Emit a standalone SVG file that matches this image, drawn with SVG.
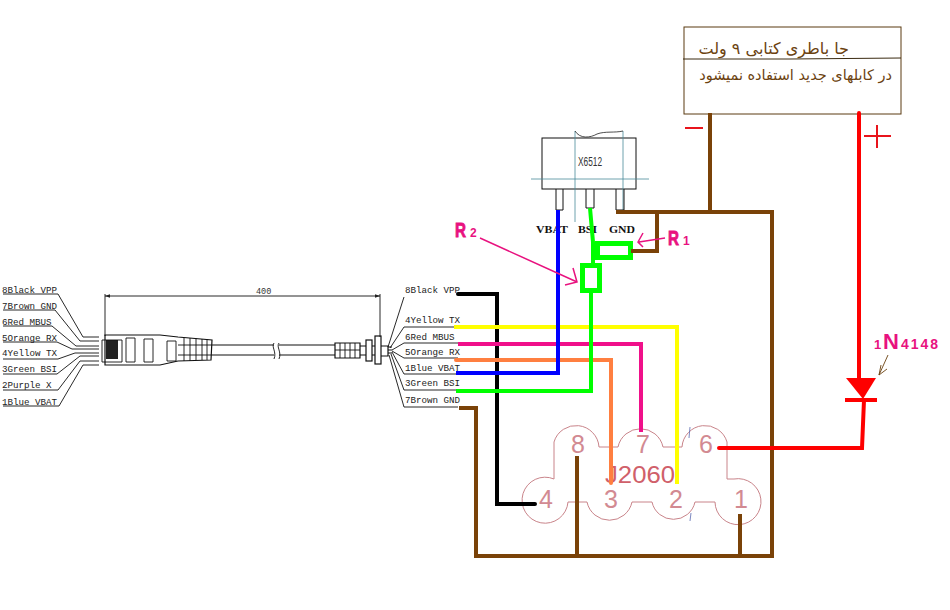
<svg xmlns="http://www.w3.org/2000/svg" width="950" height="610" viewBox="0 0 950 610">
<style>
.lab{font-family:"Liberation Mono",monospace;font-size:9.2px;fill:#222}
.thin{fill:none;stroke:#111;stroke-width:.9}
.thk{fill:none;stroke:#111;stroke-width:1.2}
.w{fill:none;stroke-width:4;stroke-linejoin:miter}
.pin{font-family:"Liberation Sans",sans-serif;font-size:25px;fill:#d28a92;text-anchor:middle}
.ic{font-family:"Liberation Serif",serif;font-weight:bold;font-size:11px;fill:#111}
.pk{font-family:"Liberation Sans",sans-serif;font-weight:bold;fill:#e8127f}
.rr{stroke:#e8127f;stroke-width:.9}
.pl{fill:none;stroke:#e8127f;stroke-width:1.5}
.fa{font-family:"DejaVu Sans",sans-serif;fill:#6b4210}
</style>
<defs>
<marker id="dim" markerWidth="7" markerHeight="4" refX="6" refY="2" orient="auto-start-reverse"><path d="M0 0L6 2L0 4z" fill="#222"/></marker>
</defs>
<rect width="950" height="610" fill="#fff"/>

<g id="left-labels">
<text class="lab" x="2" y="293">8Black VPP</text>
<text class="lab" x="2" y="309">7Brown GND</text>
<text class="lab" x="2" y="325">6Red MBUS</text>
<text class="lab" x="2" y="341">5Orange RX</text>
<text class="lab" x="2" y="356">4Yellow TX</text>
<text class="lab" x="2" y="372">3Green BSI</text>
<text class="lab" x="2" y="388">2Purple X</text>
<text class="lab" x="2" y="405">1Blue VBAT</text>
<path class="thin" d="M3 294H58L83 337H99M3 310H55L80 341H99M3 326H52L76 346H99M3 342H57L72 349H99M3 359H58L75 353H99M3 374H57L80 356H99M3 390H58L80 361H99M3 406H59L83 365H99"/>
</g>

<g id="cable">
<path class="thin" d="M105 294V336M380 294V337"/>
<path class="thin" d="M105 296H380" marker-start="url(#dim)" marker-end="url(#dim)"/>
<text x="256" y="294" font-family="Liberation Mono,monospace" font-size="8.5" fill="#333">400</text>
<path class="thk" d="M105 335H160L178 337L212 340L211 360L178 361L160 365H105Z"/>
<rect x="106" y="340" width="12" height="19" fill="#222"/>
<path class="thin" d="M102 340H122V362H102Z"/>
<path class="thin" d="M126 338H135V362H126ZM144 339H153V362H144ZM167 341H176V361H167Z"/>
<path class="thin" d="M184 338V361M190 338V361M196 338V360M202 339V360M207 339V360M178 345H212M178 355H212"/>
<path class="thk" d="M212 345H274M212 355H274M279 345H335M279 355H335"/>
<path class="thin" d="M274 343C271 347 277 352 274 359M279 343C276 347 282 352 279 359"/>
<path class="thk" d="M335 343H360V358H335Z"/>
<path class="thin" d="M340 343V358M345 343V358M350 343V358M355 343V358M335 350H360"/>
<rect x="366" y="340" width="6" height="21" class="thk"/>
<rect x="375" y="336" width="6" height="28" class="thk"/>
<path class="thk" d="M360 346H366M372 346H375M360 355H366M372 355H375M381 346H388V356H381"/>
<path d="M388 347H392M388 350H392M388 353H392" stroke="#111" stroke-width="1"/>
</g>

<g id="right-labels">
<text class="lab" x="405" y="293">8Black VPP</text>
<text class="lab" x="405" y="323">4Yellow TX</text>
<text class="lab" x="405" y="340">6Red MBUS</text>
<text class="lab" x="405" y="355">5Orange RX</text>
<text class="lab" x="405" y="371">1Blue VBAT</text>
<text class="lab" x="405" y="386">3Green BSI</text>
<text class="lab" x="405" y="403">7Brown GND</text>
<path class="thin" d="M404 297L388 347M458 327H404L390 348M458 343H404L392 350M458 358H404L392 351M458 374H404L392 352M458 390H404L391 354M458 407H404L389 355"/>
</g>

<g id="connector-j2060">
<path fill="none" stroke="#c9848a" stroke-width="1" d="M554 479V442A23 23 0 0 1 599 447H618A23 23 0 0 1 663 447H682A23 23 0 0 1 727 442V479H734A23 23 0 1 1 715 502H695A22 22 0 0 1 652 502H632A23 23 0 0 1 587 502H568A23 23 0 1 1 554 479Z"/>
<path d="M690 427L689 438M691 513L690 521" stroke="#5a6ab0" stroke-width=".8"/>
<text class="pin" x="578" y="453">8</text>
<text class="pin" x="643" y="453">7</text>
<text class="pin" x="706" y="453">6</text>
<text class="pin" x="546" y="508">4</text>
<text class="pin" x="611" y="508">3</text>
<text class="pin" x="676" y="508">2</text>
<text class="pin" x="741" y="508">1</text>
<text x="605" y="483" font-family="Liberation Sans,sans-serif" font-size="24" fill="#d0606a" textLength="70" lengthAdjust="spacingAndGlyphs">J2060</text>
</g>

<g id="ic-x6512">
<rect x="542" y="138" width="94" height="51" fill="none" stroke="#111" stroke-width="1"/>
<path d="M575 222V131M623 212V131M531 179H649" fill="none" stroke="#4a8a9a" stroke-width=".8"/>
<path d="M575 131C580 139 590 138 597 134C605 131 615 133 623 131" fill="none" stroke="#222" stroke-width=".8"/>
<path d="M556 189V210H563V189M586 189V208H594V189M616 189V210H624V189" fill="none" stroke="#111" stroke-width="1"/>
<text x="578" y="166" font-family="Liberation Sans,sans-serif" font-size="12" fill="#333" textLength="24" lengthAdjust="spacingAndGlyphs">X6512</text>
<text class="ic" x="536" y="233" textLength="32" lengthAdjust="spacingAndGlyphs">VBAT</text>
<text class="ic" x="578" y="233" textLength="19" lengthAdjust="spacingAndGlyphs">BSI</text>
<text class="ic" x="609" y="233" textLength="26" lengthAdjust="spacingAndGlyphs">GND</text>
</g>

<g id="battery">
<rect x="684" y="27" width="217" height="87" fill="none" stroke="#5a3a10" stroke-width="1"/>
<path d="M683 59L790 59L901 58" fill="none" stroke="#3a2a10" stroke-width="1"/>
<text class="fa" x="849" y="54" font-size="16" direction="rtl" xml:lang="fa">جا باطری کتابی ۹ ولت</text>
<text class="fa" x="892" y="80" font-size="14.5" direction="rtl" xml:lang="fa">در کابلهای جدید استفاده نمیشود</text>
<path d="M685 128H703M864 136H891M877 125V148" stroke="#e8141c" stroke-width="2" fill="none"/>
</g>

<g id="connectors">
<path class="w" stroke="#000" stroke-linecap="round" d="M458 294H497V504H535"/>
<path class="w" stroke="#ffff00" d="M454 327H677V484"/>
<path class="w" stroke="#f0108a" d="M458 344H641V432"/>
<path class="w" stroke="#ff7f40" stroke-linecap="round" d="M456 360H611V483"/>
<path class="w" stroke="#0000ff" d="M456 373H558V210"/>
<path class="w" stroke="#00ff00" d="M456 391H591V292M590 208L593 242V264"/>
<rect x="582.5" y="265.5" width="17" height="25" fill="none" stroke="#00ff00" stroke-width="5"/>
<rect x="597.5" y="243.5" width="33" height="14" fill="none" stroke="#00ff00" stroke-width="5"/>
<path class="w" stroke="#7a4208" d="M459 408H476V556H772V212H616M710 113V212M657 212V251H631M577 456V556M740 514V556"/>
<path class="w" stroke="#fe0000" stroke-linecap="round" d="M859 113V380M864 400L862 448H719"/>
</g>

<g id="diode-1n4148">
<path d="M846 378H876L863 399Z" fill="#fe0000"/>
<path d="M845 400H877" stroke="#fe0000" stroke-width="4"/>
<text class="pk" x="874" y="349" font-size="13">1</text>
<text class="pk" x="883" y="349" font-size="22">N</text>
<text class="pk" x="901" y="349" font-size="14" letter-spacing="2">4148</text>
<path d="M888 355L879 375M879 375L881 365M879 375L887 369" fill="none" stroke="#6b4210" stroke-width=".9"/>
</g>

<g id="r1-label">
<text class="pk rr" x="668" y="245" font-size="21" textLength="11" lengthAdjust="spacingAndGlyphs">R</text>
<text class="pk" x="683" y="245" font-size="12">1</text>
<path class="pl" d="M665 238L639 242M643 233L638 242L643 247"/>
</g>

<g id="r2-label">
<text class="pk rr" x="455" y="237" font-size="21" textLength="11" lengthAdjust="spacingAndGlyphs">R</text>
<text class="pk" x="470" y="237" font-size="12">2</text>
<path class="pl" d="M480 238L577 282M573 268L577 282L565 285"/>
</g>
</svg>
